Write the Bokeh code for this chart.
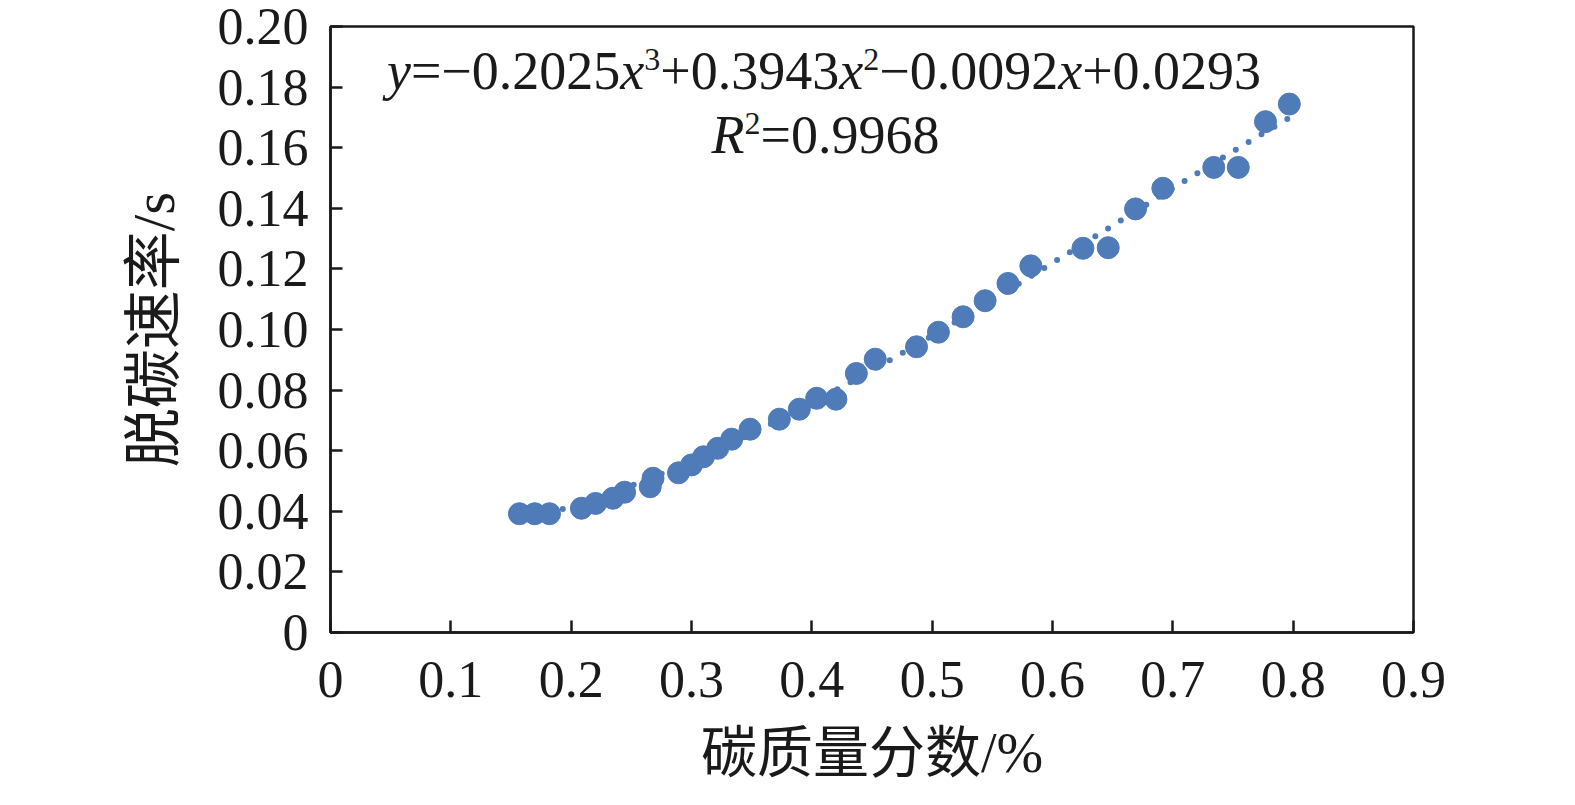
import numpy as np
from bokeh.plotting import figure
from bokeh.models import Range1d, FixedTicker, CustomJSTickFormatter, Label
from bokeh.embed import file_html
from bokeh.resources import INLINE

# ---- data ----
carbon = [0.157, 0.1697, 0.182, 0.2085, 0.2203, 0.2347, 0.2444, 0.2657, 0.268,
          0.2892, 0.300, 0.310, 0.3218, 0.3334, 0.3487, 0.373, 0.3896, 0.404,
          0.420, 0.437, 0.4527, 0.487, 0.5052, 0.5257, 0.544, 0.563, 0.582,
          0.6253, 0.6463, 0.669, 0.6917, 0.734, 0.7544, 0.777, 0.7968]
rate = [0.0392, 0.0392, 0.0392, 0.0410, 0.0426, 0.0443, 0.0463, 0.0481, 0.0509,
        0.0527, 0.0553, 0.0580, 0.0608, 0.0638, 0.0671, 0.0704, 0.0737, 0.0773,
        0.0770, 0.0855, 0.0902, 0.0943, 0.0991, 0.1042, 0.1095, 0.1152, 0.1210,
        0.1268, 0.1270, 0.1398, 0.1466, 0.1535, 0.1535, 0.1686, 0.1744]
coef = [-0.2025, 0.3943, -0.0092, 0.0293]   # cubic trend line given on the chart
r_squared = "0.9968"
x_ticks = [0, 0.1, 0.2, 0.3, 0.4, 0.5, 0.6, 0.7, 0.8, 0.9]
y_ticks = [0, 0.02, 0.04, 0.06, 0.08, 0.10, 0.12, 0.14, 0.16, 0.18, 0.20]
x_label = "碳质量分数/%"
y_label = "脱碳速率/s"

SERIF = "Liberation Serif"
CJK = "Liberation Serif, Noto Sans CJK SC"
INK = "#1a1a1a"
BLUE = "#4f7bb8"

# frame edges in picture pixels
L_PX, R_PX, T_PX, B_PX = 330, 1413, 26, 632

p = figure(width=1559, height=789, output_backend="svg", toolbar_location=None,
           x_range=Range1d(0, 0.9), y_range=Range1d(0, 0.2),
           min_border_left=L_PX, min_border_right=1559 - R_PX,
           min_border_top=T_PX, min_border_bottom=789 - B_PX)
p.background_fill_color = "white"
p.border_fill_color = "white"
p.grid.visible = False
p.outline_line_color = INK
p.outline_line_width = 2.5
p.outline_line_alpha = 1.0

for ax, ticks, fmt in ((p.xaxis[0], x_ticks, 'return tick == 0 ? "0" : tick.toFixed(1);'),
                       (p.yaxis[0], y_ticks, 'return tick == 0 ? "0" : tick.toFixed(2);')):
    ax.ticker = FixedTicker(ticks=ticks)
    ax.formatter = CustomJSTickFormatter(code=fmt)
    ax.minor_tick_line_color = None
    ax.major_tick_in = 12
    ax.major_tick_out = 0
    ax.major_tick_line_width = 2.5
    ax.major_tick_line_color = INK
    ax.axis_line_width = 2.5
    ax.axis_line_color = INK
    ax.major_label_text_font = SERIF
    ax.major_label_text_font_size = "52px"
    ax.major_label_text_color = INK
    ax.axis_label_text_font = CJK
    ax.axis_label_text_font_style = "normal"
    ax.axis_label_text_color = INK

p.xaxis.axis_label = x_label
p.yaxis.axis_label = y_label
p.xaxis.axis_label_text_font_size = "56px"
p.yaxis.axis_label_text_font_size = "59px"
p.xaxis.major_label_standoff = 29
p.xaxis.axis_label_standoff = 22
p.yaxis.major_label_standoff = 22
p.yaxis.axis_label_standoff = 28

# scatter points
p.scatter(carbon, rate, size=22, color=BLUE)

# dotted cubic trend line
xs = np.linspace(min(carbon), max(carbon), 300)
ys = np.polyval(coef, xs)
p.line(xs, ys, line_color=BLUE, line_width=6, line_dash="0 15", line_cap="round")

# ---- equation text, composed of pieces (layout positions in picture pixels) ----
def dx(px):
    return (px - L_PX) / (R_PX - L_PX) * 0.9
def dy(py):
    return (B_PX - py) / (B_PX - T_PX) * 0.2

F = 54
SUP = 32
BASE_FIX = 17
W_REG = {"0": .5, "1": .5, "2": .5, "3": .5, "4": .5, "5": .5, "6": .5, "7": .5,
         "8": .5, "9": .5, ".": .25, "=": .564, "+": .564, "\u2212": .564}
W_IT = {"x": .444, "y": .444, "R": .611}

def fmt_num(v):
    return f"{abs(v):.4f}"

def sign(v, first=False):
    return "\u2212" if v < 0 else ("" if first else "+")

line1 = [("y", "it"), ("=" + sign(coef[0], True) + fmt_num(coef[0]), "reg"),
         ("x", "it"), ("3", "sup"),
         (sign(coef[1]) + fmt_num(coef[1]), "reg"), ("x", "it"), ("2", "sup"),
         (sign(coef[2]) + fmt_num(coef[2]), "reg"), ("x", "it"),
         (sign(coef[3]) + fmt_num(coef[3]), "reg")]
line2 = [("R", "it"), ("2", "sup"), ("=" + r_squared, "reg")]

def width(piece):
    t, kind = piece
    if kind == "it":
        return sum(W_IT.get(c, .5) for c in t) * F
    if kind == "sup":
        return sum(W_REG.get(c, .5) for c in t) * SUP
    return sum(W_REG.get(c, .5) for c in t) * F

def draw_line(pieces, center_px, base_px):
    total = sum(width(pc) for pc in pieces)
    cur = center_px - total / 2
    for pc in pieces:
        t, kind = pc
        size = SUP if kind == "sup" else F
        by = base_px - BASE_FIX - (11 if kind == "sup" else 0)
        p.add_layout(Label(x=dx(cur), y=dy(by), text=t, text_font=SERIF,
                           text_font_size=f"{size}px",
                           text_font_style="italic" if kind == "it" else "normal",
                           text_color=INK, text_align="left",
                           text_baseline="alphabetic"))
        cur += width(pc)

draw_line(line1, 823.5, 87)
draw_line(line2, 825, 151)

open("out.html", "w").write(file_html(p, INLINE))
